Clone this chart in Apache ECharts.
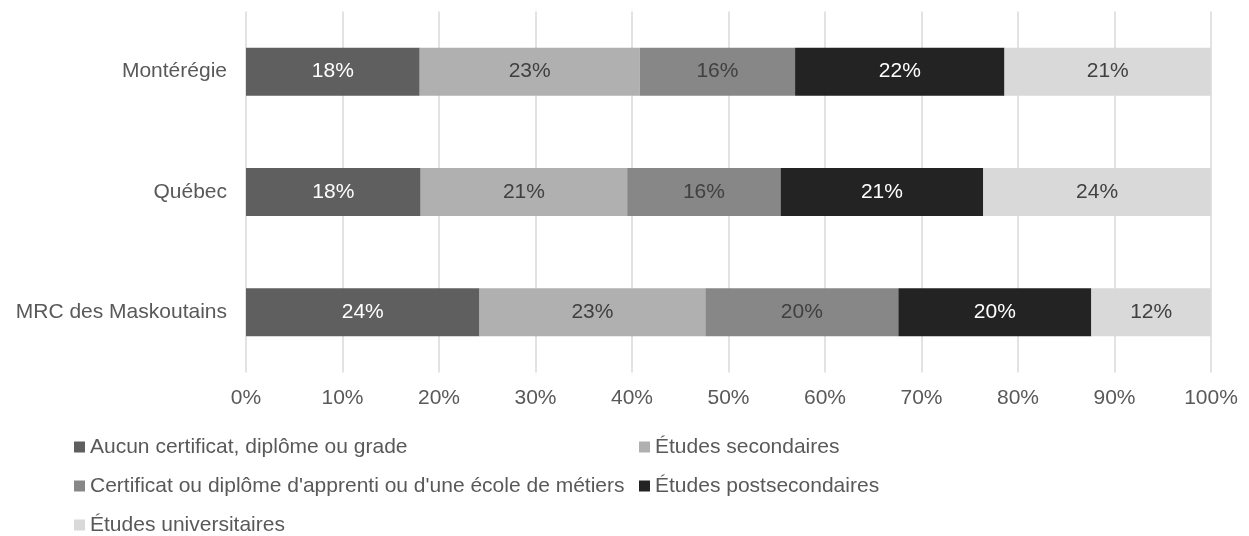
<!DOCTYPE html>
<html>
<head>
<meta charset="utf-8">
<script src="https://cdn.jsdelivr.net/npm/echarts@6/dist/echarts.min.js"></script>
<style>
  html, body { margin: 0; padding: 0; background: #fff; }
  #chart { width: 1249px; height: 536px; }
</style>
</head>
<body>
<div id="chart"></div>
<script>
// catégories (de bas en haut, comme l'axe de ECharts)
var regions = ["MRC des Maskoutains", "Québec", "Montérégie"];

// parts en %
var aucun = [24.2, 18.1, 18.0];
var secondaires = [23.4, 21.4, 22.8];
var certificat = [20.0, 15.9, 16.1];
var postsecondaires = [20.0, 21.0, 21.7];
var universitaires = [12.4, 23.6, 21.4];

var xTicks = [0, 10, 20, 30, 40, 50, 60, 70, 80, 90, 100];

var noms = [
  "Aucun certificat, diplôme ou grade",
  "Études secondaires",
  "Certificat ou diplôme d'apprenti ou d'une école de métiers",
  "Études postsecondaires",
  "Études universitaires"
];

var font = "'Liberation Sans', Arial, sans-serif";
var fs = 21;

function makeSerie(name, data, color, labelColor) {
  return {
    name: name,
    type: "bar",
    stack: "total",
    barWidth: 48,
    data: data,
    itemStyle: { color: color },
    label: {
      show: true,
      position: "inside",
      color: labelColor,
      fontFamily: font,
      fontSize: fs,
      formatter: function (p) {
        return Math.round(p.value) + "%";
      }
    }
  };
}

// une légende par élément pour garder les deux colonnes alignées
function makeLegend(name, left, top) {
  return {
    left: left,
    top: top,
    padding: 0,
    icon: "rect",
    itemWidth: 11,
    itemHeight: 11,
    textStyle: { color: "#595959", fontFamily: font, fontSize: fs, lineHeight: 22 },
    data: [name]
  };
}

var chart = echarts.init(document.getElementById("chart"));

var option = {
  animation: false,
  grid: {
    left: 246,
    right: 38,
    top: 11.5,
    bottom: 163.5
  },
  legend: [
    makeLegend(noms[0], 74, 436),
    makeLegend(noms[1], 639, 436),
    makeLegend(noms[2], 74, 475),
    makeLegend(noms[3], 639, 475),
    makeLegend(noms[4], 74, 514)
  ],
  xAxis: {
    type: "value",
    min: xTicks[0],
    max: xTicks[xTicks.length - 1],
    interval: 10,
    axisLine: { show: false },
    axisTick: { show: false },
    axisLabel: {
      color: "#595959",
      fontFamily: font,
      fontSize: fs,
      margin: 15,
      formatter: "{value}%"
    },
    splitLine: { show: true, lineStyle: { color: "#d9d9d9", width: 1.5 } }
  },
  yAxis: {
    type: "category",
    data: regions,
    axisLine: { show: false },
    axisTick: { show: false },
    axisLabel: {
      color: "#595959",
      fontFamily: font,
      fontSize: fs,
      margin: 19
    }
  },
  series: [
    makeSerie(noms[0], aucun, "#5f5f5f", "#ffffff"),
    makeSerie(noms[1], secondaires, "#b0b0b0", "#404040"),
    makeSerie(noms[2], certificat, "#878787", "#404040"),
    makeSerie(noms[3], postsecondaires, "#232323", "#ffffff"),
    makeSerie(noms[4], universitaires, "#d9d9d9", "#404040")
  ]
};

chart.setOption(option);
</script>
</body>
</html>
